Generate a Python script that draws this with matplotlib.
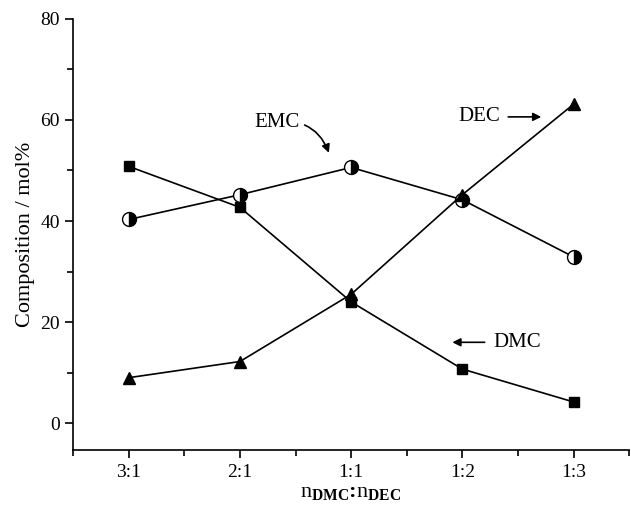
import matplotlib
matplotlib.use('Agg')
import matplotlib.pyplot as plt
from matplotlib.ticker import MultipleLocator

plt.rc('font', family='Liberation Serif', size=14)
plt.rc('mathtext', fontset='custom', rm='Liberation Serif', bf='Liberation Serif:bold', it='Liberation Serif:italic')

ratios = ['3:1', '2:1', '1:1', '1:2', '1:3']
dmc = [50.8, 42.7, 24.0, 10.7, 4.2]
emc = [40.3, 45.2, 50.6, 44.2, 32.9]
dec = [9.0, 12.2, 25.5, 45.2, 63.1]

fig = plt.figure(figsize=(6.31, 5.09), dpi=100)
ax = fig.add_axes([0.116, 0.116, 0.881, 0.847])

x = range(len(ratios))
ax.plot(x, dmc, color='black', lw=1.2, marker='s', ms=7)
ax.plot(x, emc, color='black', lw=1.2, marker='o', ms=10, fillstyle='right',
        markerfacecolor='black', markerfacecoloralt='white', markeredgewidth=1.0)
ax.plot(x, dec, color='black', lw=1.2, marker='^', ms=9)

# labels with arrows
ax.annotate('EMC', xy=(1.80, 53.5), xytext=(1.33, 59.5), ha='center', va='center', fontsize=15,
            arrowprops=dict(arrowstyle='-|>', color='black', lw=1.2, mutation_scale=12,
                            connectionstyle='arc3,rad=-0.4', shrinkA=2, shrinkB=0))
ax.annotate('DEC', xy=(3.71, 60.6), xytext=(3.15, 60.6), ha='center', va='center', fontsize=15,
            arrowprops=dict(arrowstyle='-|>', color='black', lw=1.2, mutation_scale=12,
                            shrinkA=4, shrinkB=0))
ax.annotate('DMC', xy=(2.91, 16.0), xytext=(3.49, 16.0), ha='center', va='center', fontsize=15,
            arrowprops=dict(arrowstyle='-|>', color='black', lw=1.2, mutation_scale=12,
                            shrinkA=4, shrinkB=0))

ax.set_xlim(-0.5, 4.5)
ax.set_ylim(-5.3, 80)
ax.set_xticks(list(x))
ax.set_xticklabels(ratios)
ax.xaxis.set_minor_locator(MultipleLocator(0.5))
ax.yaxis.set_major_locator(MultipleLocator(20))
ax.yaxis.set_minor_locator(MultipleLocator(10))
ax.tick_params(which='both', direction='out', width=1.2, labelsize=14)
ax.tick_params(which='major', length=6)
ax.tick_params(which='minor', length=4)
ax.tick_params(axis='x', pad=4)

ax.spines['top'].set_visible(False)
ax.spines['right'].set_visible(False)
ax.spines['left'].set_linewidth(1.2)
ax.spines['bottom'].set_linewidth(1.2)

ax.set_ylabel('Composition / mol%', fontsize=16)
ax.set_xlabel(r'$\mathrm{n}_{\mathbf{DMC}}$:$\mathrm{n}_{\mathbf{DEC}}$', fontsize=16,
              fontweight='bold', labelpad=1)

fig.savefig('out.png', dpi=100)
